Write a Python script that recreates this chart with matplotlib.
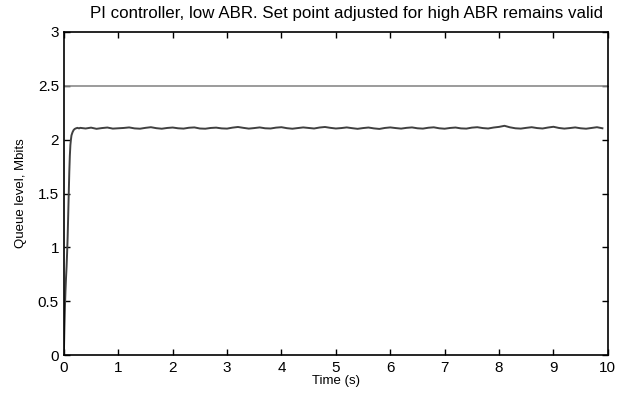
import matplotlib
matplotlib.use("Agg")
import matplotlib.pyplot as plt
import numpy as np

plt.rcParams['font.family'] = ['Liberation Sans', 'DejaVu Sans']

# Rise portion (time in s, queue in Mbits)
rise_t = [0.0, 0.01, 0.02, 0.03, 0.04, 0.05, 0.06, 0.07, 0.08, 0.09, 0.10, 0.11, 0.12, 0.13, 0.14, 0.16, 0.18, 0.20, 0.22, 0.25, 0.28]
rise_q = [0.0, 0.25, 0.45, 0.6, 0.72, 0.82, 0.95, 1.1, 1.3, 1.5, 1.7, 1.85, 1.95, 2.0, 2.04, 2.07, 2.09, 2.10, 2.105, 2.11, 2.105]

# Steady-state portion sampled every 0.1 s from 0.3 to 10.0 s
steady_q = [
    2.110, 2.104, 2.112, 2.101, 2.108, 2.113, 2.103, 2.106, 2.109, 2.114,
    2.105, 2.102, 2.110, 2.116, 2.107, 2.102, 2.109, 2.113, 2.106, 2.103,
    2.111, 2.114, 2.104, 2.102, 2.109, 2.112, 2.105, 2.103, 2.112, 2.118,
    2.110, 2.103, 2.108, 2.114, 2.106, 2.104, 2.112, 2.116, 2.107, 2.102,
    2.108, 2.114, 2.109, 2.104, 2.113, 2.118, 2.110, 2.104, 2.108, 2.114,
    2.107, 2.101, 2.108, 2.113, 2.105, 2.100, 2.109, 2.114, 2.108, 2.103,
    2.110, 2.114, 2.106, 2.103, 2.111, 2.115, 2.106, 2.102, 2.109, 2.113,
    2.105, 2.103, 2.112, 2.116, 2.108, 2.104, 2.113, 2.119, 2.129, 2.115,
    2.106, 2.103, 2.110, 2.116, 2.108, 2.104, 2.113, 2.120, 2.109, 2.103,
    2.108, 2.114, 2.106, 2.102, 2.109, 2.116, 2.106,
]
steady_t = [0.3 + 0.1 * i for i in range(len(steady_q))]

setpoint = 2.5

x_ticks = [0, 1, 2, 3, 4, 5, 6, 7, 8, 9, 10]
y_ticks = [0, 0.5, 1, 1.5, 2, 2.5, 3]
y_ticklabels = ['0', '0.5', '1', '1.5', '2', '2.5', '3']

t = rise_t + steady_t
q = rise_q + steady_q

fig = plt.figure(figsize=(6.26, 3.95), dpi=100)
ax = fig.add_axes([0.102, 0.101, 0.869, 0.818])

ax.plot([0, 10], [setpoint, setpoint], color='#8a8a8a', linewidth=1.2)
ax.plot(t, q, color='#404040', linewidth=1.4)

ax.set_xlim(0, 10)
ax.set_ylim(0, 3)
ax.set_xticks(x_ticks)
ax.set_yticks(y_ticks)
ax.set_yticklabels(y_ticklabels)
ax.tick_params(direction='in', top=True, right=True, labelsize=11, length=4, width=1)
ax.tick_params(axis='x', pad=4)
for s in ax.spines.values():
    s.set_linewidth(1.2)

ax.set_xlabel('Time (s)', fontsize=9.5, labelpad=0)
ax.set_ylabel('Queue level, Mbits', fontsize=9.5, labelpad=8)
fig.text(0.554, 0.985, 'PI controller, low ABR. Set point adjusted for high ABR remains valid',
         fontsize=12.2, ha='center', va='top')

fig.savefig('out.png', dpi=100)
